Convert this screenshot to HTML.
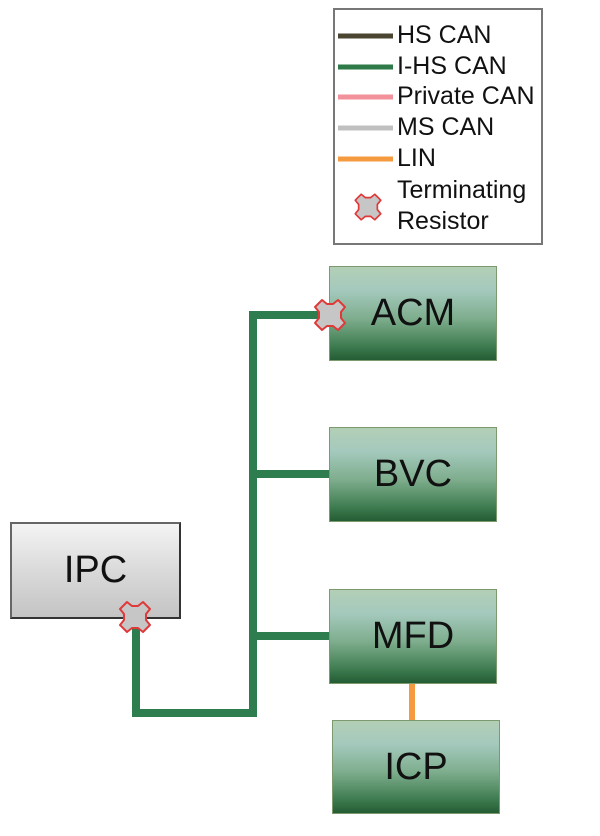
<!DOCTYPE html>
<html><head><meta charset="utf-8"><style>
body{margin:0;width:600px;height:836px;background:#fff;position:relative;overflow:hidden;font-family:"Liberation Sans",Arial,sans-serif;}
.box{position:absolute;display:flex;align-items:center;justify-content:center;font-size:38px;color:#111;box-sizing:border-box;}
.g{background:linear-gradient(#b3cfb6 0%,#a4c9bd 25%,#7fae8e 55%,#3f7c50 85%,#245c33 100%);border:1px solid #7d9a6e;}
.ipc{background:linear-gradient(#f4f4f4 0%,#dadada 50%,#c4c4c4 100%);border:2px solid #666;border-right-color:#333;border-bottom-color:#333;}
.leg{position:absolute;left:333px;top:8px;width:210px;height:237px;border:2px solid #777;box-sizing:border-box;}
.lt{position:absolute;left:397px;font-size:25px;color:#111;line-height:26px;white-space:nowrap;}
</style></head><body>
<div class="leg"></div>
<svg width="600" height="836" style="position:absolute;left:0;top:0">
<g stroke-width="5">
<line x1="338" y1="36" x2="393" y2="36" stroke="#4a4530"/>
<line x1="338" y1="67" x2="393" y2="67" stroke="#2e7a48"/>
<line x1="338" y1="97" x2="393" y2="97" stroke="#f2919a"/>
<line x1="338" y1="128" x2="393" y2="128" stroke="#c0c0c0"/>
<line x1="338" y1="159" x2="393" y2="159" stroke="#f59a3e"/>
</g>
</svg>
<div class="lt" style="top:22px">HS CAN</div>
<div class="lt" style="top:53px">I-HS CAN</div>
<div class="lt" style="top:83px">Private CAN</div>
<div class="lt" style="top:114px">MS CAN</div>
<div class="lt" style="top:145px">LIN</div>
<div class="lt" style="top:177px">Terminating</div>
<div class="lt" style="top:208px">Resistor</div>

<div class="box g" style="left:329px;top:266px;width:168px;height:95px">ACM</div>
<div class="box g" style="left:329px;top:427px;width:168px;height:95px">BVC</div>
<div class="box g" style="left:329px;top:589px;width:168px;height:95px">MFD</div>
<div class="box g" style="left:332px;top:720px;width:168px;height:94px">ICP</div>
<div class="box ipc" style="left:10px;top:522px;width:171px;height:97px">IPC</div>

<svg width="600" height="836" style="position:absolute;left:0;top:0">
<g fill="none" stroke="#2e7d4f" stroke-width="8">
<polyline points="136,625 136,713 253,713 253,315 320,315"/>
<line x1="253" y1="474" x2="329" y2="474"/>
<line x1="253" y1="636" x2="329" y2="636"/>
</g>
<line x1="412" y1="684" x2="412" y2="720" stroke="#f59a3e" stroke-width="6"/>
<defs>
<path id="x" d="M-8,-15 L-3,-11 L3,-11 L8,-15 L15,-8 L11,-3 L11,3 L15,8 L8,15 L3,11 L-3,11 L-8,15 L-15,8 L-11,3 L-11,-3 L-15,-8 Z" fill="#c6c6c6" stroke="#e0393a" stroke-width="2" stroke-linejoin="round"/>
</defs>
<use href="#x" x="135" y="617"/>
<use href="#x" x="330" y="315"/>
<use href="#x" transform="translate(368,207) scale(0.85)"/>
</svg>
</body></html>
